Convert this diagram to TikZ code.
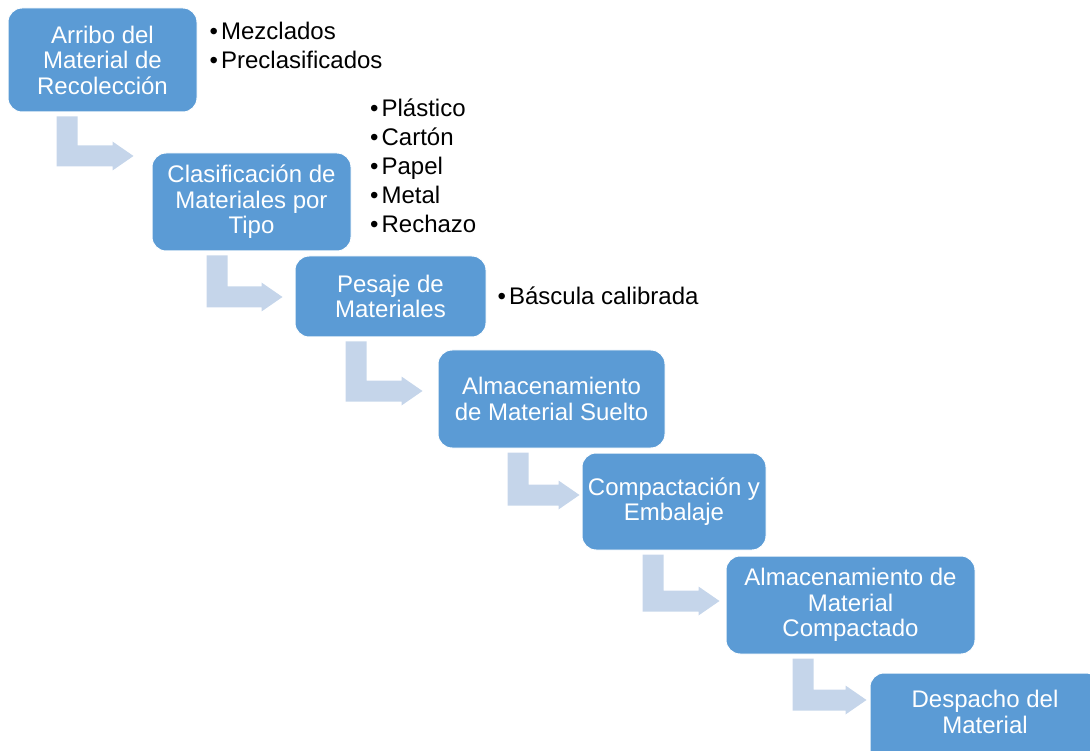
\documentclass[tikz,border=0pt]{standalone}
\usepackage{fontspec}
\setmainfont{Liberation Sans}
\usetikzlibrary{calc}

\definecolor{stepblue}{HTML}{5B9BD5}
\definecolor{arrowblue}{HTML}{C5D5EA}

\tikzset{
  stepbox/.style={fill=stepblue, draw=white, line width=1pt, rounded corners=14pt,
    inner sep=0pt, align=center, text=white, font=\fontsize{24}{25.5}\selectfont},
  steptext/.style={inner sep=0pt, align=center, text=white, font=\fontsize{24}{25.5}\selectfont},
  bulletitem/.style={anchor=base west, inner sep=0pt, text=black, font=\fontsize{24}{29}\selectfont},
  flowarrow/.style={fill=arrowblue},
}

% Bent block arrow: from below #1 down and right towards #2.
% #3 stem offset from the left of #1, #4 bar bottom below the top of #2, #5 gap before #2
\newcommand\bentarrow[5]{%
  \fill[flowarrow] let \p1=(#1.south west), \p2=(#2.north west) in
    (\x1+#3pt,\y1-4pt) -- (\x1+#3pt+21pt,\y1-4pt)
    -- (\x1+#3pt+21pt,\y2-#4pt+21pt) -- (\x2-#5pt-21pt,\y2-#4pt+21pt)
    -- (\x2-#5pt-21pt,\y2-#4pt+25pt) -- (\x2-#5pt,\y2-#4pt+10.5pt)
    -- (\x2-#5pt-21pt,\y2-#4pt-4pt) -- (\x2-#5pt-21pt,\y2-#4pt)
    -- (\x1+#3pt,\y2-#4pt) -- cycle;}

\newcommand\bul[1]{\textbullet\kern3pt #1}

\begin{document}
\begin{tikzpicture}[x=1pt,y=-1pt]
\useasboundingbox (0,0) rectangle (1090,751);

% process steps
\node[stepbox, minimum width=189pt, minimum height=104pt] (b1) at (102.5,60)
  {Arribo del\\Material de\\Recolección};
\node[stepbox, minimum width=199pt, minimum height=98pt] (b2) at (251.5,202)
  {Clasificación de\\Materiales por\\Tipo};
\node[stepbox, minimum width=191pt, minimum height=81pt] (b3) at (390.5,296.5)
  {Pesaje de\\Materiales};
\node[stepbox, minimum width=227pt, minimum height=98pt] (b4) at (551.5,399)
  {Almacenamiento\\de Material Suelto};
\node[stepbox, minimum width=184pt, minimum height=97pt] (b5) at (674,501.5)
  {Compactación y\\Embalaje};
\node[stepbox, minimum width=249pt, minimum height=98pt] (b6) at (850.5,605)
  {Almacenamiento de\\Material\\Compactado};
\node[stepbox, minimum width=230pt, minimum height=98pt] (b7) at (985,722) {};
\node[steptext] (t7) at (985,712) {Despacho del\\Material};

% arrows between steps
\bentarrow{b1}{b2}{49}{14}{18}
\bentarrow{b2}{b3}{55}{52}{12}
\bentarrow{b3}{b4}{51}{52}{15}
\bentarrow{b4}{b5}{70}{53}{2}
\bentarrow{b5}{b6}{61}{56}{6}
\bentarrow{b6}{b7}{67}{38}{3}

% details of each step
\node[bulletitem] (m1) at (209.5,39.5) {\bul{Mezclados}};
\node[bulletitem] (m2) at (209.5,68.5) {\bul{Preclasificados}};

\node[bulletitem] (c1) at (370,116.5) {\bul{Plástico}};
\node[bulletitem] (c2) at (370,145.5) {\bul{Cartón}};
\node[bulletitem] (c3) at (370,174.5) {\bul{Papel}};
\node[bulletitem] (c4) at (370,203.5) {\bul{Metal}};
\node[bulletitem] (c5) at (370,232.5) {\bul{Rechazo}};

\node[bulletitem] (p1) at (497.5,305) {\bul{Báscula calibrada}};
\end{tikzpicture}
\end{document}
